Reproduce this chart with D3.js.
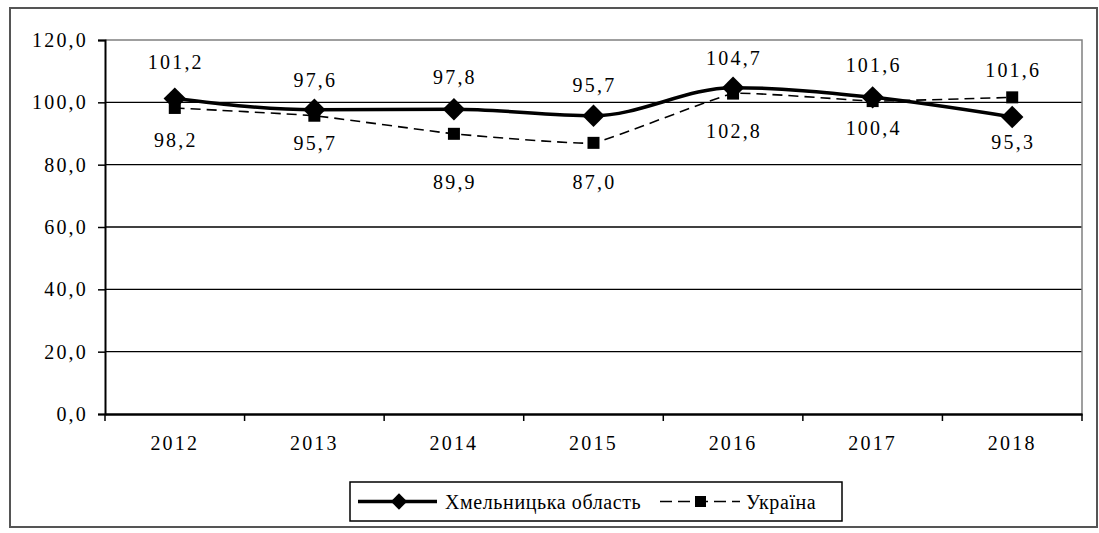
<!DOCTYPE html>
<meta charset="utf-8">
<style>
body { margin: 0; background: #fff; }
svg text { font-family: "Liberation Serif", "Times New Roman", serif; font-size: 20px; letter-spacing: 2.2px; fill: #000; }
svg text.legend { letter-spacing: 0.6px; }
</style>
<body>
<div id="chart"></div>
<script src="https://cdn.jsdelivr.net/npm/d3@7"></script>
<script>
// data
var years = ["2012", "2013", "2014", "2015", "2016", "2017", "2018"];
var khmelnytska = [101.2, 97.6, 97.8, 95.7, 104.7, 101.6, 95.3];
var ukraine = [98.2, 95.7, 89.9, 87.0, 102.8, 100.4, 101.6];
var yTicks = [0, 20, 40, 60, 80, 100, 120];
var seriesNames = ["Хмельницька область", "Україна"];

// label nudges (layout only), px from the point
var khmDy = [-37, -30, -32, -31, -30, -32, 25];
var ukrDy = [32, 27, 48, 39, 37, 27, -27];

var width = 1099, height = 533;
var margin = {top: 40, right: 17, bottom: 119, left: 105};

var svg = d3.select("#chart").append("svg")
    .attr("width", width)
    .attr("height", height);

// outer frame
svg.append("rect")
    .attr("x", 10).attr("y", 8)
    .attr("width", 1087).attr("height", 519)
    .attr("fill", "none")
    .attr("stroke", "#555")
    .attr("stroke-width", 2);

var x = d3.scaleBand()
    .domain(years)
    .range([margin.left, width - margin.right]);
var y = d3.scaleLinear()
    .domain([0, 120])
    .range([height - margin.bottom, margin.top]);

var fmt = function(v) { return d3.format(".1f")(v).replace(".", ","); };

// gridlines
svg.append("g")
    .selectAll("line")
    .data(yTicks.filter(function(d) { return d > 0 && d < 120; }))
    .enter().append("line")
        .attr("x1", margin.left)
        .attr("x2", width - margin.right)
        .attr("y1", function(d) { return y(d); })
        .attr("y2", function(d) { return y(d); })
        .attr("stroke", "#000")
        .attr("stroke-width", 1.3);

// plot frame top / right (grey)
svg.append("path")
    .attr("d", "M" + margin.left + "," + y(120) + "H" + (width - margin.right) + "V" + y(0))
    .attr("fill", "none")
    .attr("stroke", "#808080")
    .attr("stroke-width", 1.5);

// y axis
var yAxis = svg.append("g")
    .attr("transform", "translate(" + margin.left + ",0)")
    .call(d3.axisLeft(y).tickValues(yTicks).tickSize(7).tickPadding(10).tickFormat(fmt));
yAxis.attr("font-family", null).attr("font-size", null);
yAxis.select(".domain").attr("stroke", "#000").attr("stroke-width", 2);
yAxis.selectAll(".tick line").attr("stroke", "#000").attr("stroke-width", 1.5);
yAxis.selectAll("text").attr("fill", "#000");

// x axis: ticks between categories
var xAxis = svg.append("g")
    .attr("transform", "translate(0," + y(0) + ")")
    .call(d3.axisBottom(x).tickSize(0).tickPadding(22));
xAxis.attr("font-family", null).attr("font-size", null);
xAxis.select(".domain").attr("stroke", "#000").attr("stroke-width", 2.5);
xAxis.selectAll("text").attr("fill", "#000");
svg.append("g")
    .selectAll("line")
    .data(years.concat(["end"]))
    .enter().append("line")
        .attr("x1", function(d, i) { return margin.left + i * x.step(); })
        .attr("x2", function(d, i) { return margin.left + i * x.step(); })
        .attr("y1", y(0))
        .attr("y2", y(0) + 7)
        .attr("stroke", "#000")
        .attr("stroke-width", 1.5);

var cx = function(i) { return x(years[i]) + x.bandwidth() / 2; };

var smooth = d3.line()
    .x(function(d, i) { return cx(i); })
    .y(function(d) { return y(d); })
    .curve(d3.curveMonotoneX);
var straight = d3.line()
    .x(function(d, i) { return cx(i); })
    .y(function(d) { return y(d); })
    .curve(d3.curveCardinal.tension(0.7));

// Україна (dashed, squares)
svg.append("path")
    .datum(ukraine)
    .attr("d", straight)
    .attr("fill", "none")
    .attr("stroke", "#000")
    .attr("stroke-width", 1.6)
    .attr("stroke-dasharray", "10,6");
svg.append("g")
    .selectAll("rect")
    .data(ukraine)
    .enter().append("rect")
        .attr("x", function(d, i) { return cx(i) - 6; })
        .attr("y", function(d) { return y(d) - 6; })
        .attr("width", 12).attr("height", 12)
        .attr("fill", "#000");

// Хмельницька область (solid, diamonds)
svg.append("path")
    .datum(khmelnytska)
    .attr("d", smooth)
    .attr("fill", "none")
    .attr("stroke", "#000")
    .attr("stroke-width", 3.5);
var diamond = d3.symbol().type(d3.symbolDiamond2).size(320);
svg.append("g")
    .selectAll("path")
    .data(khmelnytska)
    .enter().append("path")
        .attr("transform", function(d, i) { return "translate(" + cx(i) + "," + y(d) + ")"; })
        .attr("d", diamond)
        .attr("fill", "#000");

// data labels
function labels(data, dys) {
    svg.append("g")
        .selectAll("text")
        .data(data)
        .enter().append("text")
            .attr("x", function(d, i) { return cx(i) + 1; })
            .attr("y", function(d, i) { return y(d) + dys[i]; })
            .attr("dy", "0.35em")
            .attr("text-anchor", "middle")
            .text(fmt);
}
labels(khmelnytska, khmDy);
labels(ukraine, ukrDy);

// legend
var leg = svg.append("g");
leg.append("rect")
    .attr("x", 350).attr("y", 482)
    .attr("width", 492).attr("height", 39)
    .attr("fill", "#fff")
    .attr("stroke", "#000")
    .attr("stroke-width", 1.5);
var ly = 501.5;
leg.append("line")
    .attr("x1", 358).attr("x2", 437).attr("y1", ly).attr("y2", ly)
    .attr("stroke", "#000").attr("stroke-width", 3.5);
leg.append("path")
    .attr("transform", "translate(399," + ly + ")")
    .attr("d", d3.symbol().type(d3.symbolDiamond2).size(170))
    .attr("fill", "#000");
leg.append("text")
    .attr("class", "legend")
    .attr("x", 445).attr("y", ly).attr("dy", "0.35em")
    .text(seriesNames[0]);
leg.append("line")
    .attr("x1", 660).attr("x2", 740).attr("y1", ly).attr("y2", ly)
    .attr("stroke", "#000").attr("stroke-width", 1.6)
    .attr("stroke-dasharray", "12,6");
leg.append("rect")
    .attr("x", 695).attr("y", ly - 5.5)
    .attr("width", 11).attr("height", 11)
    .attr("fill", "#000");
leg.append("text")
    .attr("class", "legend")
    .attr("x", 746).attr("y", ly).attr("dy", "0.35em")
    .text(seriesNames[1]);
</script>
</body>
